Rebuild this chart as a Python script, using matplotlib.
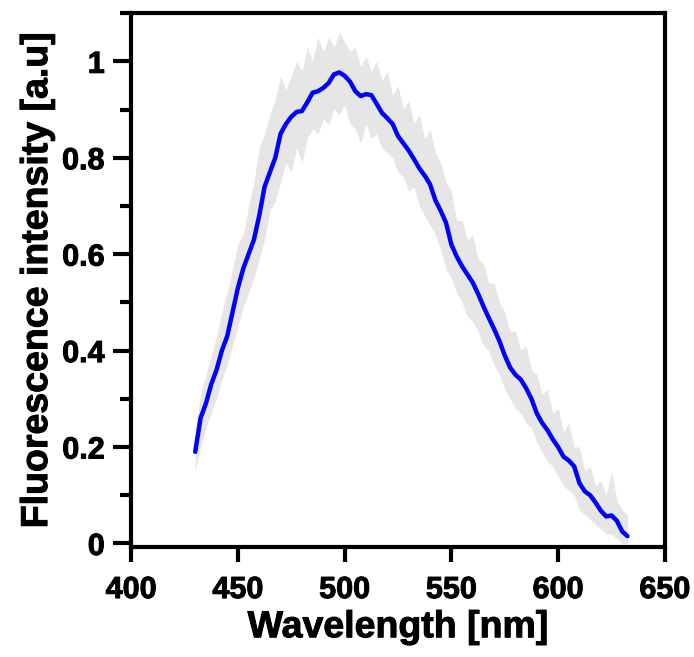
import numpy as np
import matplotlib.pyplot as plt
import matplotlib.patheffects as pe
from matplotlib.ticker import MultipleLocator

plt.rcParams['font.family'] = ['Liberation Sans', 'DejaVu Sans']
plt.rcParams['font.weight'] = 'bold'

# wavelength grid of the spectrum (nm)
wavelength = np.arange(430, 633, 2.5)

# mean fluorescence intensity (a.u.)
mean_int = [0.19, 0.26, 0.29, 0.33, 0.36, 0.40, 0.43, 0.48, 0.53, 0.57,
            0.60, 0.63, 0.68, 0.74, 0.77, 0.80, 0.85, 0.87, 0.885, 0.895,
            0.897, 0.915, 0.935, 0.938, 0.945, 0.955, 0.973, 0.977, 0.970, 0.958,
            0.938, 0.928, 0.932, 0.930, 0.912, 0.893, 0.882, 0.870, 0.845, 0.830,
            0.815, 0.797, 0.778, 0.763, 0.745, 0.712, 0.690, 0.665, 0.62, 0.595,
            0.575, 0.558, 0.541, 0.518, 0.492, 0.468, 0.445, 0.42, 0.39, 0.365,
            0.350, 0.340, 0.322, 0.30, 0.27, 0.25, 0.235, 0.216, 0.20, 0.18,
            0.172, 0.16, 0.125, 0.108, 0.100, 0.085, 0.068, 0.056, 0.058, 0.047,
            0.025, 0.015]

# upper / lower edge of the spread band
upper = [0.23, 0.31, 0.35, 0.39, 0.43, 0.48, 0.52, 0.57, 0.62, 0.64,
         0.70, 0.75, 0.82, 0.85, 0.89, 0.92, 0.97, 0.94, 0.97, 1.00,
         0.98, 1.03, 1.00, 1.05, 1.02, 1.05, 1.03, 1.06, 1.04, 1.02,
         1.03, 0.99, 1.01, 0.98, 1.00, 0.96, 0.98, 0.93, 0.95, 0.90,
         0.92, 0.87, 0.89, 0.84, 0.86, 0.81, 0.79, 0.75, 0.73, 0.67,
         0.67, 0.63, 0.64, 0.59, 0.58, 0.54, 0.54, 0.50, 0.48, 0.44,
         0.44, 0.40, 0.41, 0.36, 0.35, 0.31, 0.32, 0.27, 0.28, 0.23,
         0.25, 0.20, 0.20, 0.15, 0.16, 0.12, 0.13, 0.10, 0.15, 0.09,
         0.07, 0.06]
lower = [0.15, 0.20, 0.24, 0.27, 0.30, 0.34, 0.37, 0.41, 0.45, 0.49,
         0.52, 0.55, 0.59, 0.63, 0.69, 0.71, 0.75, 0.79, 0.77, 0.82,
         0.79, 0.84, 0.86, 0.85, 0.88, 0.87, 0.90, 0.89, 0.91, 0.87,
         0.86, 0.83, 0.87, 0.84, 0.85, 0.82, 0.81, 0.80, 0.77, 0.76,
         0.73, 0.74, 0.70, 0.68, 0.66, 0.64, 0.61, 0.57, 0.55, 0.52,
         0.50, 0.47, 0.46, 0.44, 0.41, 0.40, 0.37, 0.35, 0.32, 0.30,
         0.28, 0.27, 0.25, 0.24, 0.21, 0.19, 0.17, 0.16, 0.14, 0.12,
         0.11, 0.10, 0.07, 0.06, 0.05, 0.04, 0.03, 0.02, 0.02, 0.01,
         0.00, 0.00]

fig = plt.figure(figsize=(6.94, 6.57), dpi=100)
ax = fig.add_axes([0.189, 0.167, 0.769, 0.813])

ax.fill_between(wavelength, lower, upper, color='#e6e6e6', linewidth=0)
ax.plot(wavelength, mean_int, color='#0000ff', linewidth=3.2, solid_capstyle='round')

ax.set_xlim(400, 650)
ax.set_ylim(-0.008, 1.1)
ax.set_xticks([400, 450, 500, 550, 600, 650])
ax.set_yticks([0, 0.2, 0.4, 0.6, 0.8, 1.0])
ax.set_yticklabels(['0', '0.2', '0.4', '0.6', '0.8', '1'])
ax.yaxis.set_minor_locator(MultipleLocator(0.1))

for s in ax.spines.values():
    s.set_linewidth(3)
ax.tick_params(axis='both', which='major', width=3, labelsize=22)
ax.tick_params(axis='x', which='major', length=11, pad=9)
ax.tick_params(axis='y', which='major', length=13, pad=6)
ax.tick_params(axis='y', which='minor', width=3, length=8)

thick = [pe.withStroke(linewidth=0.7, foreground='black')]
for lab in ax.get_xticklabels() + ax.get_yticklabels():
    lab.set_path_effects(thick)

ax.set_xlabel('Wavelength [nm]', fontsize=27, fontweight='bold', labelpad=3,
              path_effects=thick)
ax.set_ylabel('Fluorescence intensity [a.u]', fontsize=27, fontweight='bold', labelpad=5,
              path_effects=thick)

fig.savefig('out.png', dpi=100)
